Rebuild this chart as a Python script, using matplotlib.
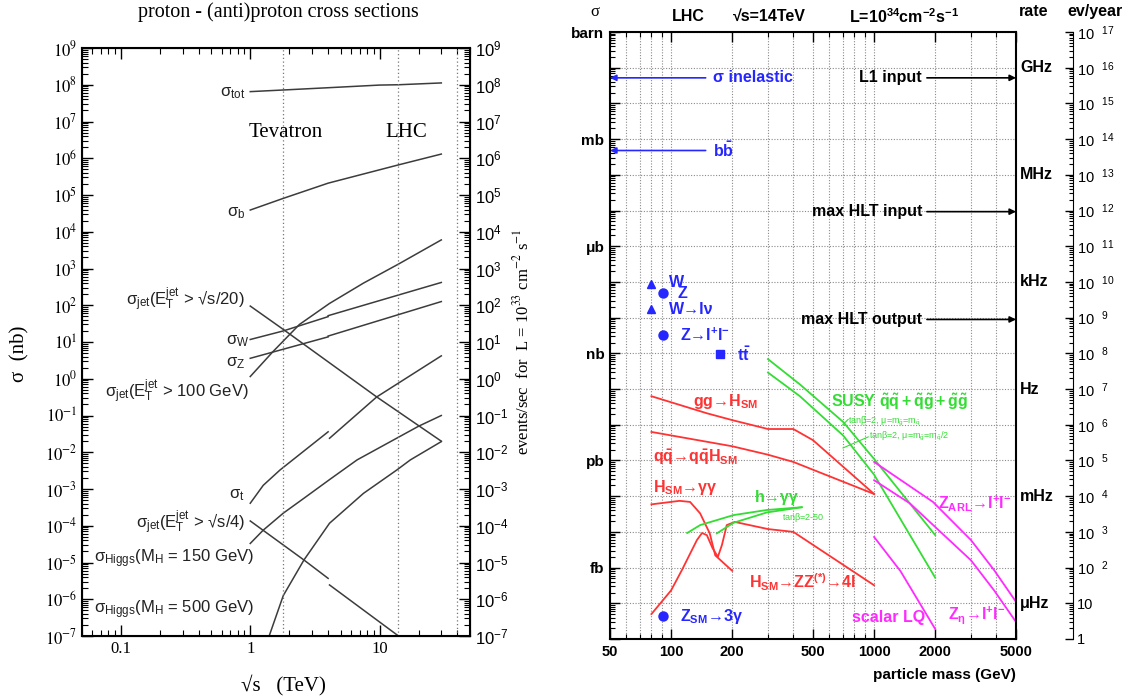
import numpy as np
import matplotlib
matplotlib.use("Agg")
import matplotlib.pyplot as plt
from matplotlib.font_manager import FontProperties
from matplotlib.ticker import FixedLocator, LogLocator, NullFormatter

plt.rcParams["font.family"] = ["Liberation Sans", "DejaVu Sans"]
plt.rcParams["mathtext.fontset"] = "custom"
plt.rcParams["mathtext.rm"] = "Liberation Sans"
plt.rcParams["mathtext.it"] = "Liberation Sans:italic"
plt.rcParams["mathtext.bf"] = "Liberation Sans:bold"
plt.rcParams["mathtext.sf"] = "Liberation Sans"
plt.rcParams["mathtext.default"] = "rm"

# ---------------- left panel: sqrt(s) [TeV] vs sigma [nb]
collider_energies = [1.8, 14, 40]

sqrts_tot = [1, 1.8, 4, 10, 14, 30]
sig_tot = [6.5e7, 7.2e7, 8.3e7, 9.8e7, 1.0e8, 1.12e8]
sqrts_b = [1, 1.8, 4, 14, 30]
sig_b = [3.9e4, 8.1e4, 2.1e5, 6.6e5, 1.3e6]
sqrts_jet20 = [1, 1.8, 9.5, 30]
sig_jet20 = [95, 22, 0.32, 0.02]
sqrts_jet100 = [1, 1.5, 2.4, 4.1, 7.5, 14, 30]
sig_jet100 = [1.15, 5.5, 30, 112, 400, 1320, 6000]
sqrts_w_ppbar = [1, 1.8, 4]
sig_w_ppbar = [11.7, 20, 49]
sqrts_w_pp = [4, 14, 30]
sig_w_pp = [52, 190, 417]
sqrts_z_ppbar = [1, 4]
sig_z_ppbar = [3.6, 13.8]
sqrts_z_pp = [4, 30]
sig_z_pp = [14.5, 126]
sqrts_t_ppbar = [1, 1.26, 1.7, 4]
sig_t_ppbar = [4.1e-4, 1.26e-3, 3.3e-3, 3.6e-2]
sqrts_t_pp = [4.1, 9.5, 30]
sig_t_pp = [2.4e-2, 0.32, 4.2]
sqrts_jet4_ppbar = [1, 2.6, 4]
sig_jet4_ppbar = [1.35e-4, 1.17e-5, 3.7e-6]
sqrts_jet4_pp = [4.1, 14]
sig_jet4_pp = [2.45e-6, 1.0e-7]
sqrts_h150 = [1, 1.26, 1.8, 2.6, 4.1, 6.7, 20, 30]
sig_h150 = [3.3e-5, 7.6e-5, 2.2e-4, 5.6e-4, 1.8e-3, 6.2e-3, 5.1e-2, 0.1]
sqrts_h500 = [1.4, 1.8, 2.6, 4.1, 7.5, 13.6, 17.3, 30]
sig_h500 = [1e-7, 1.26e-6, 1.17e-5, 1.17e-4, 7.6e-4, 3.3e-3, 6.2e-3, 1.95e-2]

left_labels = [r"$\sigma_{tot}$", r"$\sigma_b$",
               r"$\sigma_{jet}$(E$_T^{jet}$ > √s/20)", r"$\sigma_W$", r"$\sigma_Z$",
               r"$\sigma_{jet}$(E$_T^{jet}$ > 100 GeV)", r"$\sigma_t$",
               r"$\sigma_{jet}$(E$_T^{jet}$ > √s/4)",
               r"$\sigma_{Higgs}$(M$_H$ = 150 GeV)", r"$\sigma_{Higgs}$(M$_H$ = 500 GeV)"]
left_label_pos = [(0.91, 6.0e7), (0.91, 3.2e4), (0.91, 140), (0.98, 10.7), (0.91, 2.7),
                  (0.98, 0.44), (0.91, 6.9e-4), (0.91, 1.2e-4), (1.08, 1.3e-5), (1.08, 5.1e-7)]

# ---------------- right panel: particle mass [GeV] vs sigma [barn]
m_ggh = [80, 150, 200, 300, 400, 500, 1000]
s_ggh = [6.3e-11, 2.1e-11, 1.35e-11, 7.6e-12, 7.6e-12, 3.7e-12, 1.15e-13]
m_qqh = [80, 200, 300, 400, 1000]
s_qqh = [6.3e-12, 2.5e-12, 1.45e-12, 9.1e-13, 1.15e-13]
m_hgg = [80, 110, 124, 139, 155, 165, 200]
s_hgg = [5.9e-14, 7.4e-14, 6.9e-14, 3.3e-14, 9.1e-15, 2.2e-15, 8.1e-16]
m_hzz = [80, 100, 113, 134, 142, 150, 160, 170, 178, 188, 206, 300, 400, 1000]
s_hzz = [5.0e-17, 2.3e-16, 8.5e-16, 5.9e-15, 9.3e-15, 8.1e-15, 3.5e-15, 2.0e-15,
         4.3e-15, 1.55e-14, 1.9e-14, 1.2e-14, 1.0e-14, 3.2e-16]
m_h_gg_1 = [120, 139, 203, 296, 440]
s_h_gg_1 = [9.3e-15, 1.55e-14, 2.95e-14, 4.1e-14, 4.9e-14]
m_h_gg_2 = [168, 203, 296, 440]
s_h_gg_2 = [9.1e-15, 1.8e-14, 3.5e-14, 4.9e-14]
m_susy_1 = [300, 431, 704, 1000, 2000]
s_susy_1 = [6.9e-10, 1.35e-10, 1.2e-11, 1.1e-12, 8.1e-15]
m_susy_2 = [300, 431, 704, 1000, 2000]
s_susy_2 = [2.9e-10, 6.3e-11, 5.0e-12, 4.0e-13, 5.2e-16]
m_zarl = [1000, 1950, 3000, 3900, 5000]
s_zarl = [9.1e-13, 6.9e-14, 5.9e-15, 8.5e-16, 1.1e-16]
m_zeta = [1000, 1500, 3000, 3900, 5000]
s_zeta = [2.8e-13, 6.3e-14, 1.6e-15, 2.3e-16, 3.0e-17]
m_lq = [1000, 1350, 2000]
s_lq = [7.2e-15, 7.9e-16, 1.9e-17]

w_tri_m = [80, 80]
w_tri_s = [8.7e-8, 1.7e-8]
z_dot_m = [91, 91, 91]
z_dot_s = [4.8e-8, 3.2e-9, 4.5e-17]
top_m = [175]
top_s = [9.5e-10]

sigma_inel = 5.2e-2
sigma_bb = 4.8e-4
trigger_names = ["L1 input", "max HLT input", "max HLT output"]
trigger_sigma = [5.2e-2, 9.3e-6, 8.9e-9]

unit_exp = [0, -3, -6, -9, -12, -15]
unit_names = ["barn", "mb", "μb", "nb", "pb", "fb"]
rate_exp = [-1, -4, -7, -10, -13, -16]
rate_names = ["GHz", "MHz", "kHz", "Hz", "mHz", "μHz"]
mass_ticks = [50, 100, 200, 500, 1000, 2000, 5000]
mass_minor = [60, 70, 80, 90, 300, 400, 600, 700, 800, 900, 3000, 4000]

blue = "#2626ff"
red = "#ff3333"
green = "#33dd33"
magenta = "#ff2aff"

fig = plt.figure(figsize=(11.28, 7.0), dpi=100)

# ================= left panel
serif = "Liberation Serif"
serif_math = FontProperties(family=serif, size=12, math_fontfamily="stix")

ax1 = fig.add_axes([82 / 1128, 64 / 700, 388 / 1128, 588 / 700])
ax1.set_xscale("log")
ax1.set_yscale("log")
ax1.set_xlim(0.05, 50)
ax1.set_ylim(1e-7, 1e9)

lk = dict(color="#3c3c3c", lw=1.1)
ax1.plot(sqrts_tot, sig_tot, **lk)
ax1.plot(sqrts_b, sig_b, **lk)
ax1.plot(sqrts_jet20, sig_jet20, **lk)
ax1.plot(sqrts_jet100, sig_jet100, **lk)
ax1.plot(sqrts_w_ppbar, sig_w_ppbar, **lk)
ax1.plot(sqrts_w_pp, sig_w_pp, **lk)
ax1.plot(sqrts_z_ppbar, sig_z_ppbar, **lk)
ax1.plot(sqrts_z_pp, sig_z_pp, **lk)
ax1.plot(sqrts_t_ppbar, sig_t_ppbar, **lk)
ax1.plot(sqrts_t_pp, sig_t_pp, **lk)
ax1.plot(sqrts_jet4_ppbar, sig_jet4_ppbar, **lk)
ax1.plot(sqrts_jet4_pp, sig_jet4_pp, **lk)
ax1.plot(sqrts_h150, sig_h150, **lk)
ax1.plot(sqrts_h500, sig_h500, **lk)

for e in collider_energies:
    ax1.axvline(e, color="#777777", ls=(0, (1, 2)), lw=0.9)

for txt, (x, y) in zip(left_labels, left_label_pos):
    ax1.text(x, y, txt, ha="right", va="center", fontsize=12, color="#222222")

ax1.text(1.89, 4.9e6, "Tevatron", family=serif, fontsize=15, ha="center", va="center")
ax1.text(16.1, 4.9e6, "LHC", family=serif, fontsize=15, ha="center", va="center")

decades = 10.0 ** np.arange(-7, 10)
exps = list(range(-7, 10))
ax1.set_yticks(decades, [rf"$10^{{{e}}}$" for e in exps], fontproperties=serif_math)
ax1.yaxis.set_minor_locator(LogLocator(base=10, subs=np.arange(2, 10), numticks=100))
ax1.yaxis.set_minor_formatter(NullFormatter())
ax1.set_xticks([0.1, 1, 10], ["0.1", "1", "10"], fontproperties=serif_math)
ax1.xaxis.set_minor_locator(LogLocator(base=10, subs=np.arange(2, 10), numticks=100))
ax1.xaxis.set_minor_formatter(NullFormatter())
ax1.tick_params(which="both", direction="in", top=True, right=False)
ax1.tick_params(which="major", length=8, width=1)
ax1.tick_params(which="minor", length=4, width=0.8)
for s in ax1.spines.values():
    s.set_linewidth(1.5)

ax1.set_ylabel("σ  (nb)", family=serif, fontsize=15)
ax1.yaxis.set_label_coords(-0.135, 0.48)
ax1.set_xlabel("√s   (TeV)", family=serif, fontsize=15)
ax1.xaxis.set_label_coords(0.52, -0.065)

ax1r = ax1.twinx()
ax1r.set_yscale("log")
ax1r.set_ylim(1e-7, 1e9)
ax1r.set_yticks(decades, [rf"$10^{{{e}}}$" for e in exps], fontsize=12)
ax1r.yaxis.set_minor_locator(LogLocator(base=10, subs=np.arange(2, 10), numticks=100))
ax1r.yaxis.set_minor_formatter(NullFormatter())
ax1r.tick_params(which="both", direction="in")
ax1r.tick_params(which="major", length=8, width=1)
ax1r.tick_params(which="minor", length=4, width=0.8)
ax1r.set_ylabel(r"events/sec  for  L = 10$^{33}$ cm$^{-2}$ s$^{-1}$",
                fontproperties=FontProperties(family=serif, size=12, math_fontfamily="stix"))
ax1r.yaxis.set_label_coords(1.11, 0.5)

fig.text(278 / 1128, 1 - 12 / 700, "proton - (anti)proton cross sections",
         family=serif, fontsize=14.5, ha="center", va="center")

# ================= right panel
ax2 = fig.add_axes([610 / 1128, 61 / 700, 406 / 1128, 607 / 700])
ax2.set_xscale("log")
ax2.set_yscale("log")
ax2.set_xlim(50, 5000)
ax2.set_ylim(1e-17, 1)

lw = 1.3
ax2.plot(m_ggh, s_ggh, color=red, lw=lw)
ax2.plot(m_qqh, s_qqh, color=red, lw=lw)
ax2.plot(m_hgg, s_hgg, color=red, lw=lw)
ax2.plot(m_hzz, s_hzz, color=red, lw=lw)
ax2.plot(m_h_gg_1, s_h_gg_1, color=green, lw=lw)
ax2.plot(m_h_gg_2, s_h_gg_2, color=green, lw=lw)
ax2.plot(m_susy_1, s_susy_1, color=green, lw=lw)
ax2.plot(m_susy_2, s_susy_2, color=green, lw=lw)
ax2.plot(m_zarl, s_zarl, color=magenta, lw=lw)
ax2.plot(m_zeta, s_zeta, color=magenta, lw=lw)
ax2.plot(m_lq, s_lq, color=magenta, lw=lw)

ax2.plot(w_tri_m, w_tri_s, ls="none", marker="^", color=blue, ms=6)
ax2.plot(z_dot_m, z_dot_s, ls="none", marker="o", color=blue, ms=6.5)
ax2.plot(top_m, top_s, ls="none", marker="s", color=blue, ms=6)

ak = dict(arrowstyle="-|>", lw=1.2, mutation_scale=9, shrinkA=0, shrinkB=0)
ax2.annotate("", xy=(50, sigma_inel), xytext=(148, sigma_inel),
             arrowprops=dict(color=blue, **ak))
ax2.annotate("", xy=(50, sigma_bb), xytext=(148, sigma_bb),
             arrowprops=dict(color=blue, **ak))
for name, s in zip(trigger_names, trigger_sigma):
    ax2.annotate("", xy=(5000, s), xytext=(1820, s), arrowprops=dict(color="black", **ak))
    ax2.text(1720, s, name, ha="right", va="center", fontsize=11.5, fontweight="bold")

bk = dict(fontsize=11.5, fontweight="bold", va="center", ha="left")
ax2.text(160, sigma_inel, "σ inelastic", color=blue, **bk)
ax2.text(160, sigma_bb, r"$\mathbf{b\bar{b}}$", color=blue, **bk)
ax2.text(97.8, 10 ** -7.17, "W\n  Z", color=blue, linespacing=0.62, **bk)
ax2.text(97.8, 10 ** -7.76, "W→lν", color=blue, **bk)
ax2.text(110.8, 10 ** -8.49, r"Z→l$^{\mathbf{+}}$l$^{\mathbf{-}}$", color=blue, **bk)
ax2.text(211, 10 ** -9.05, r"$\mathbf{t\bar{t}}$", color=blue, **bk)
ax2.text(110.8, 10 ** -16.36, r"Z$_{\mathbf{SM}}$→3γ", color=blue, **bk)

ax2.text(128, 10 ** -10.36, r"gg→H$_{\mathbf{SM}}$", color=red, **bk)
ax2.text(81.5, 10 ** -11.9, r"$\mathbf{q\bar{q}}$→$\mathbf{q\bar{q}}$H$_{\mathbf{SM}}$", color=red, **bk)
ax2.text(81.5, 10 ** -12.75, r"H$_{\mathbf{SM}}$→γγ", color=red, **bk)
ax2.text(242, 10 ** -15.41, r"H$_{\mathbf{SM}}$→ZZ$^{\mathbf{(*)}}$→4l", color=red, **bk)
ax2.text(259, 10 ** -13.05, "h→γγ", color=green, **bk)
ax2.text(352, 10 ** -13.61, r"tan$\beta$=2-50", color=green, fontsize=6.5, va="center")
ax2.text(611, 10 ** -10.36,
         r"SUSY $\mathbf{\tilde{q}\tilde{q}+\tilde{q}\tilde{g}+\tilde{g}\tilde{g}}$",
         color=green, **bk)
ax2.text(743, 10 ** -10.9, r"tan$\beta$=2, $\mu$=m$_{\tilde{g}}$=m$_{\tilde{q}}$",
         color=green, fontsize=6.5, va="center")
ax2.text(942, 10 ** -11.34, r"tan$\beta$=2, $\mu$=m$_{\tilde{g}}$=m$_{\tilde{q}}$/2",
         color=green, fontsize=6.5, va="center")
ax2.plot([701, 745], [10 ** -11.0, 10 ** -10.85], color=green, lw=0.8)
ax2.plot([703, 935], [10 ** -11.65, 10 ** -11.34], color=green, lw=0.8)
ax2.text(2056, 10 ** -13.19, r"Z$_{\mathbf{ARL}}$→l$^{\mathbf{+}}$l$^{\mathbf{-}}$", color=magenta, **bk)
ax2.text(777, 10 ** -16.39, "scalar LQ", color=magenta, **bk)
ax2.text(2301, 10 ** -16.33, r"Z$_{\mathbf{\eta}}$→l$^{\mathbf{+}}$l$^{\mathbf{-}}$", color=magenta, **bk)

# axes and ticks
ax2.xaxis.set_major_locator(FixedLocator(mass_ticks))
ax2.xaxis.set_minor_locator(FixedLocator(mass_minor))
ax2.xaxis.set_minor_formatter(NullFormatter())
ax2.set_xticklabels([str(m) for m in mass_ticks], fontsize=10.5, fontweight="bold")
y_dec = list(range(-17, 1))
names = dict(zip(unit_exp, unit_names))
ax2.set_yticks([10.0 ** e for e in y_dec], [names.get(e, "") for e in y_dec],
               fontsize=11, fontweight="bold")
ax2.yaxis.set_minor_locator(LogLocator(base=10, subs=np.arange(2, 10), numticks=100))
ax2.yaxis.set_minor_formatter(NullFormatter())
ax2.tick_params(which="both", direction="in", top=True, right=True)
ax2.tick_params(which="major", length=7, width=1, pad=4)
ax2.tick_params(which="minor", length=3.5, width=0.8)
for s in ax2.spines.values():
    s.set_linewidth(1.5)
ax2.grid(True, which="both", axis="x", color="#8a8a8a", ls=(0, (1, 1.5)), lw=0.8)
ax2.grid(True, which="major", axis="y", color="#8a8a8a", ls=(0, (1, 1.5)), lw=0.8)
ax2.set_axisbelow(True)

ytr = ax2.get_yaxis_transform()
for e, name in zip(rate_exp, rate_names):
    ax2.text(1.01, 10.0 ** e, name, transform=ytr, fontsize=11.5, fontweight="bold",
             ha="left", va="center")

ax2.text(1.0, -0.059, "particle mass (GeV)", transform=ax2.transAxes, ha="right",
         va="center", fontsize=11, fontweight="bold")
hk = dict(transform=ax2.transAxes, ha="center", va="center", fontsize=11.5, fontweight="bold")
ax2.text(-0.037, 1.033, "σ", transform=ax2.transAxes, ha="center", va="center",
         fontsize=12, family=serif)
ax2.text(0.192, 1.025, "LHC", **hk)
ax2.text(0.392, 1.025, "√s=14TeV", **hk)
ax2.text(0.725, 1.025, r"L=10$^{\mathbf{34}}$cm$^{\mathbf{-2}}$s$^{\mathbf{-1}}$", **hk)
ax2.text(1.044, 1.033, "rate", **hk)
ax2.text(1.195, 1.033, "ev/year", **hk)

# events per year axis
ax3 = ax2.twinx()
ax3.set_yscale("log")
ax3.set_ylim(1, 1e17)
ax3.spines["right"].set_position(("outward", 41))
for side in ["left", "top", "bottom"]:
    ax3.spines[side].set_visible(False)
ev_exp = list(range(0, 18))
ev_labels = ["1", "10"] + [rf"$10^{{\quad{e}}}$" for e in ev_exp[2:]]
ax3.set_yticks([10.0 ** e for e in ev_exp], ev_labels, fontsize=10.5)
ax3.yaxis.set_minor_locator(LogLocator(base=10, subs=np.arange(2, 10), numticks=100))
ax3.yaxis.set_minor_formatter(NullFormatter())
ax3.tick_params(which="both", direction="in")
ax3.tick_params(which="major", length=6, width=1, pad=3)
ax3.tick_params(which="minor", length=3, width=0.8)

fig.savefig("out.png", dpi=100)
